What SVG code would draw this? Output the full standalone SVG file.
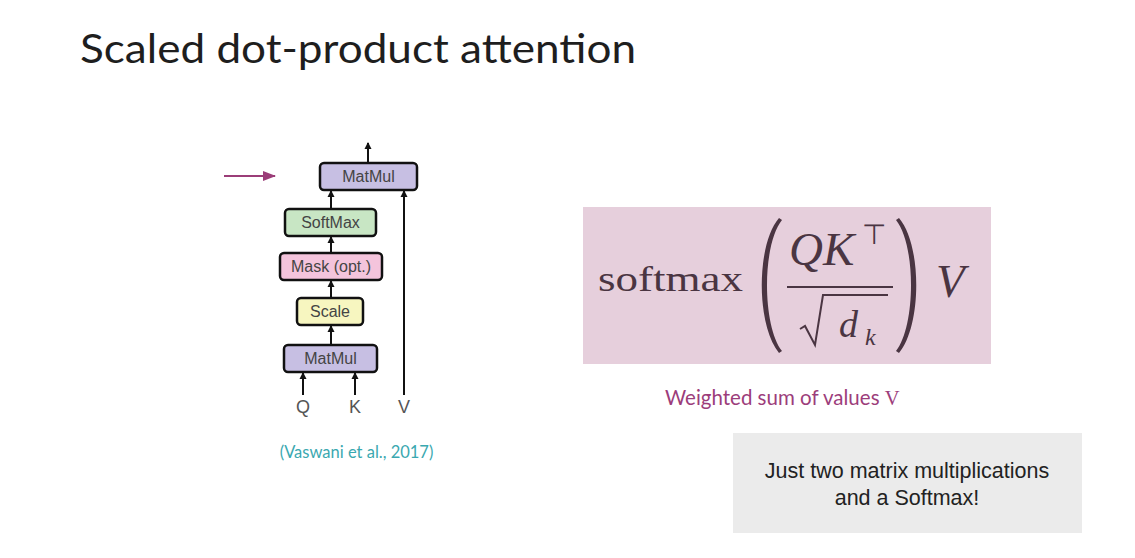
<svg xmlns="http://www.w3.org/2000/svg" width="1135" height="558" viewBox="0 0 1135 558">
<defs>
<marker id="ah" markerWidth="8" markerHeight="8" refX="6" refY="4" orient="auto" markerUnits="userSpaceOnUse">
<path d="M0,0.5 L7,4 L0,7.5 Z" fill="#111"/>
</marker>
<marker id="mh" markerWidth="14" markerHeight="12" refX="12" refY="6" orient="auto" markerUnits="userSpaceOnUse">
<path d="M0,1 L13,6 L0,11 Z" fill="#9b3d78"/>
</marker>
<style>
.box{stroke:#111;stroke-width:2.5}
.bl{font-family:"Liberation Sans",Arial,sans-serif;font-size:16px;fill:#444;text-anchor:middle}
.conn{stroke:#111;stroke-width:2;fill:none}
.qkv{font-family:"Liberation Sans",Arial,sans-serif;font-size:18px;fill:#555;text-anchor:middle}
.math{font-family:"Liberation Serif","Times New Roman",serif;fill:#4a3542}
.mi{font-style:italic}
</style>
</defs>
<rect width="1135" height="558" fill="#fff"/>
<text x="80" y="63" font-family="Lato, sans-serif" font-size="40" fill="#1e1e1e" textLength="556" lengthAdjust="spacingAndGlyphs">Scaled dot-product attention</text>

<g id="connectors">
<line class="conn" x1="368" y1="163" x2="368" y2="143" marker-end="url(#ah)"/>
<line class="conn" x1="331" y1="209" x2="331" y2="191" marker-end="url(#ah)"/>
<line class="conn" x1="331" y1="253" x2="331" y2="237" marker-end="url(#ah)"/>
<line class="conn" x1="331" y1="298" x2="331" y2="281" marker-end="url(#ah)"/>
<line class="conn" x1="331" y1="345" x2="331" y2="326" marker-end="url(#ah)"/>
<line class="conn" x1="303" y1="395" x2="303" y2="373" marker-end="url(#ah)"/>
<line class="conn" x1="355" y1="395" x2="355" y2="373" marker-end="url(#ah)"/>
<line class="conn" x1="404" y1="395" x2="404" y2="191" marker-end="url(#ah)"/>
<line x1="224" y1="176" x2="275" y2="176" stroke="#9b3d78" stroke-width="2" marker-end="url(#mh)"/>
</g>

<g id="matmul-top">
<rect class="box" x="320" y="163" width="97" height="27" rx="4" fill="#c7bfe3"/>
<text class="bl" x="368.5" y="182">MatMul</text>
</g>
<g id="softmax">
<rect class="box" x="285" y="209" width="91" height="27" rx="4" fill="#c8e6c4"/>
<text class="bl" x="330.5" y="228">SoftMax</text>
</g>
<g id="mask">
<rect class="box" x="280" y="253" width="102" height="27" rx="4" fill="#f4c4dc"/>
<text class="bl" x="331" y="272">Mask (opt.)</text>
</g>
<g id="scale">
<rect class="box" x="297" y="298" width="66" height="27" rx="4" fill="#f7f6c0"/>
<text class="bl" x="330" y="317">Scale</text>
</g>
<g id="matmul-bottom">
<rect class="box" x="284" y="345" width="93" height="27" rx="4" fill="#c7bfe3"/>
<text class="bl" x="330.5" y="364">MatMul</text>
</g>
<g id="labels-qkv">
<text class="qkv" x="303" y="413">Q</text>
<text class="qkv" x="355" y="413">K</text>
<text class="qkv" x="404" y="413">V</text>
</g>
<text x="356.5" y="458" font-family="Lato, sans-serif" font-size="16.5" fill="#3aa8b0" text-anchor="middle">(Vaswani et al., 2017)</text>

<g id="formula">
<rect x="583" y="207" width="408" height="157" fill="#e6cfdc"/>
<text class="math" x="598" y="291" font-size="36" textLength="145" lengthAdjust="spacingAndGlyphs">softmax</text>
<path d="M779,218 C756,245 756,325 779,353 L782,351 C762,325 762,245 782,220 Z" fill="#4a3542"/>
<path d="M899,218 C922,245 922,325 899,353 L896,351 C916,325 916,245 896,220 Z" fill="#4a3542"/>
<text class="math mi" x="789" y="265" font-size="47">Q</text>
<text class="math mi" x="823" y="265" font-size="47">K</text>
<text class="math" x="862" y="244" font-size="28">⊤</text>
<line x1="787" y1="287" x2="893" y2="287" stroke="#4a3542" stroke-width="2.2"/>
<path d="M800,329 L805,326 L815,345 L823,295 L888,295" fill="none" stroke="#4a3542" stroke-width="2"/>
<text class="math mi" x="839" y="337" font-size="38">d</text>
<text class="math mi" x="865" y="345" font-size="24">k</text>
<text class="math mi" x="936" y="297" font-size="47">V</text>
</g>
<text x="665" y="405" font-family="Lato, sans-serif" font-size="20.5" fill="#9c3d7b">Weighted sum of values <tspan font-family="'Liberation Serif', serif">V</tspan></text>

<g id="note">
<rect x="733" y="433" width="349" height="100" fill="#ebebeb"/>
<text x="907" y="478" font-family="'Liberation Sans', Arial, sans-serif" font-size="21.5" fill="#222" text-anchor="middle">Just two matrix multiplications</text>
<text x="907" y="505" font-family="'Liberation Sans', Arial, sans-serif" font-size="21.5" fill="#222" text-anchor="middle">and a Softmax!</text>
</g>
</svg>
